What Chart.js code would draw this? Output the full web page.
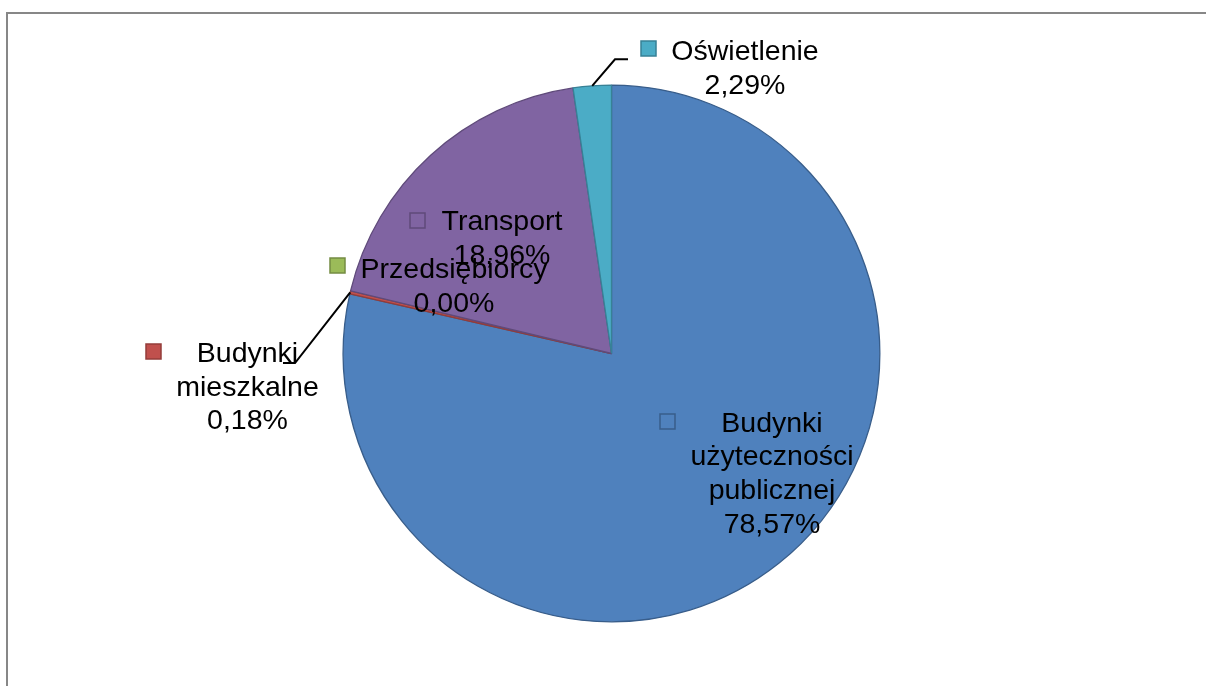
<!DOCTYPE html>
<html lang="pl">
<head>
<meta charset="utf-8">
<title>Struktura zużycia energii</title>
<script src="https://cdn.jsdelivr.net/npm/chart.js@4.4.1/dist/chart.umd.min.js"></script>
<style>
  html, body { margin: 0; padding: 0; background: #fff; }
  #wrap { width: 1206px; height: 686px; position: relative; }
</style>
</head>
<body>
<div id="wrap"><canvas id="chart" width="1206" height="686"></canvas></div>
<script>
const categories = ["Budynki użyteczności publicznej", "Budynki mieszkalne", "Przedsiębiorcy", "Transport", "Oświetlenie"];
const shares = [78.57, 0.18, 0.00, 18.96, 2.29];
const fillColors = ["#4f81bd", "#c0504d", "#9bbb59", "#8064a2", "#4bacc6"];
const edgeColors = ["#385d8a", "#943c3a", "#748c43", "#5f4a7a", "#378196"];
const labelLines = [
  ["Budynki", "użyteczności", "publicznej"],
  ["Budynki", "mieszkalne"],
  ["Przedsiębiorcy"],
  ["Transport"],
  ["Oświetlenie"]
];

// where each data label sits, as offsets from the pie centre
// text: centre x / first baseline, key: top-left of the colour square,
// leader: elbow and end of the connector (null = no connector)
const labelLayout = [
  { text: [160.5, 78.2], key: [48.5, 60.5], leader: null },
  { text: [-364, 8.5], key: [-465.5, -9.5], leader: [[-316.5, 9.5], [-328.5, 9.5]] },
  { text: [-157.5, -75.5], key: [-281.5, -95.5], leader: null },
  { text: [-109.5, -123.5], key: [-201.5, -140.5], leader: null },
  { text: [133.5, -293.5], key: [29.5, -312.5], leader: [[3.5, -294.2], [16.5, -294.2]] }
];

const FONT = '28.5px "Liberation Sans", Arial, sans-serif';
const LINE_H = 33.7;

const fmtPct = v => v.toFixed(2).replace(".", ",") + "%";

const framePlugin = {
  id: "frame",
  beforeDraw(chart) {
    const ctx = chart.ctx;
    ctx.save();
    ctx.strokeStyle = "#878787";
    ctx.lineWidth = 2;
    ctx.beginPath();
    ctx.moveTo(7, chart.height);
    ctx.lineTo(7, 13);
    ctx.lineTo(chart.width, 13);
    ctx.stroke();
    ctx.restore();
  }
};

const sliceLabels = {
  id: "sliceLabels",
  afterDatasetsDraw(chart) {
    const ctx = chart.ctx;
    const arcs = chart.getDatasetMeta(0).data;
    ctx.save();
    arcs.forEach((arc, i) => {
      const cx = arc.x, cy = arc.y;
      const lay = labelLayout[i];

      if (lay.leader) {
        const mid = (arc.startAngle + arc.endAngle) / 2;
        const r = arc.outerRadius;
        ctx.strokeStyle = "#000";
        ctx.lineWidth = 2;
        ctx.beginPath();
        ctx.moveTo(cx + Math.cos(mid) * r, cy + Math.sin(mid) * r);
        lay.leader.forEach(p => ctx.lineTo(cx + p[0], cy + p[1]));
        ctx.stroke();
      }

      // legend key square
      ctx.fillStyle = fillColors[i];
      ctx.strokeStyle = edgeColors[i];
      ctx.lineWidth = 1.5;
      ctx.fillRect(cx + lay.key[0], cy + lay.key[1], 15, 15);
      ctx.strokeRect(cx + lay.key[0], cy + lay.key[1], 15, 15);

      ctx.fillStyle = "#000";
      ctx.font = FONT;
      ctx.textAlign = "center";
      ctx.textBaseline = "alphabetic";
      const lines = labelLines[i].concat([fmtPct(shares[i])]);
      lines.forEach((t, k) => {
        ctx.fillText(t, cx + lay.text[0], cy + lay.text[1] + k * LINE_H);
      });
    });
    ctx.restore();
  }
};

new Chart(document.getElementById("chart"), {
  type: "pie",
  data: {
    labels: categories,
    datasets: [{
      data: shares,
      backgroundColor: fillColors,
      borderColor: edgeColors,
      borderWidth: 1.3
    }]
  },
  options: {
    responsive: false,
    animation: false,
    devicePixelRatio: 1,
    layout: { padding: { left: 17, right: 0, top: 84.5, bottom: 63.5 } },
    plugins: {
      legend: { display: false },
      tooltip: { enabled: false }
    }
  },
  plugins: [framePlugin, sliceLabels]
});
</script>
</body>
</html>
